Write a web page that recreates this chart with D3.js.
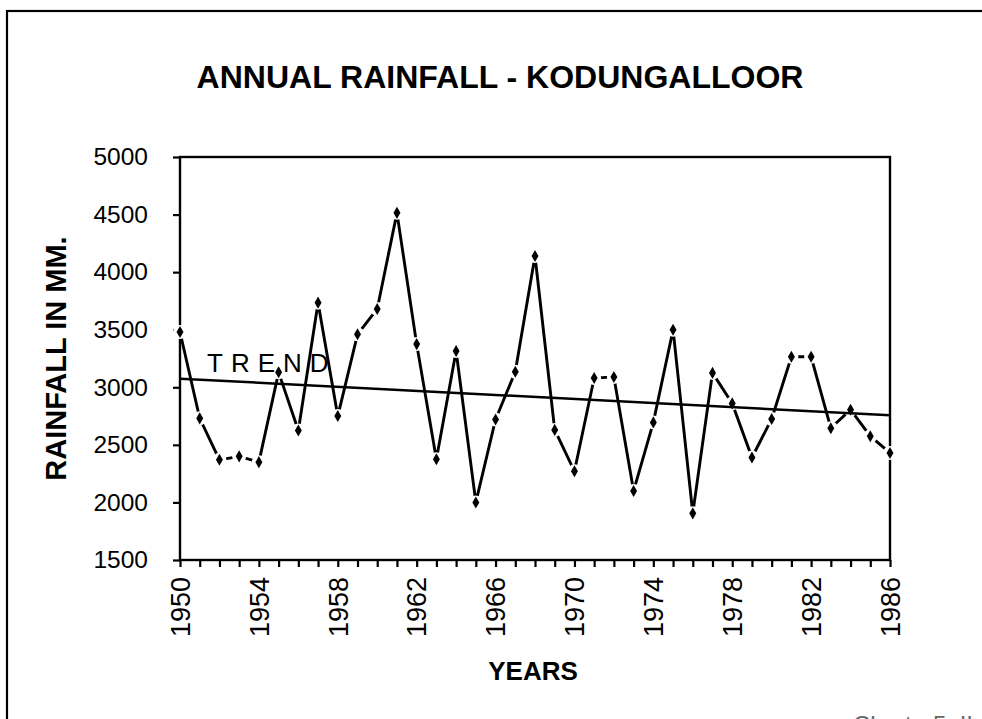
<!DOCTYPE html>
<html>
<head>
<script src="https://d3js.org/d3.v7.min.js"></script>
<style>
  body { margin: 0; background: #fff; }
  svg { font-family: "Liberation Sans", Arial, sans-serif; }
</style>
</head>
<body>
<div id="chart"></div>
<script>
const years = [1950, 1951, 1952, 1953, 1954, 1955, 1956, 1957, 1958, 1959,
               1960, 1961, 1962, 1963, 1964, 1965, 1966, 1967, 1968, 1969,
               1970, 1971, 1972, 1973, 1974, 1975, 1976, 1977, 1978, 1979,
               1980, 1981, 1982, 1983, 1984, 1985, 1986];
const rainfall = [3480, 2730, 2370, 2400, 2350, 3130, 2625, 3735, 2750, 3460,
                  3680, 4515, 3375, 2375, 3315, 2000, 2720, 3135, 4140, 2630,
                  2270, 3080, 3090, 2100, 2695, 3500, 1905, 3125, 2860, 2390,
                  2725, 3265, 3265, 2645, 2805, 2575, 2430];
// trend line end points
const trendYears = [1950, 1986];
const trendValues = [3075, 2757];
const yTicks = [1500, 2000, 2500, 3000, 3500, 4000, 4500, 5000];
const xLabelYears = [1950, 1954, 1958, 1962, 1966, 1970, 1974, 1978, 1982, 1986];

const width = 982, height = 719;
const plotLeft = 180, plotRight = 890, plotTop = 157, plotBottom = 560;

const svg = d3.select("#chart").append("svg")
    .attr("width", width)
    .attr("height", height);

// outer frame (runs off the page right and bottom)
svg.append("rect")
    .attr("x", 7).attr("y", 11)
    .attr("width", 1000).attr("height", 800)
    .attr("fill", "none").attr("stroke", "#000").attr("stroke-width", 2.2);

svg.append("text")
    .attr("x", 500).attr("y", 88)
    .attr("text-anchor", "middle")
    .attr("font-size", 32).attr("font-weight", "bold")
    .text("ANNUAL RAINFALL - KODUNGALLOOR");

const x = d3.scaleLinear().domain([1950, 1986]).range([plotLeft, plotRight]);
const y = d3.scaleLinear().domain([1500, 5000]).range([plotBottom, plotTop]);

// y axis
const yAxis = svg.append("g")
    .attr("transform", `translate(${plotLeft},0)`)
    .call(d3.axisLeft(y).tickValues(yTicks).tickSize(7).tickPadding(25).tickFormat(d3.format("d")));
yAxis.select(".domain").remove();
yAxis.selectAll("line").attr("stroke-width", 2.2);
yAxis.selectAll("text")
    .attr("font-size", 24.5).attr("fill", "#000")
    .attr("font-family", "Liberation Sans, Arial, sans-serif");

// x axis
const xAxis = svg.append("g")
    .attr("transform", `translate(0,${plotBottom})`)
    .call(d3.axisBottom(x).tickValues(years).tickSize(7).tickFormat(""));
xAxis.select(".domain").remove();
xAxis.selectAll("line").attr("stroke-width", 2.2);

svg.append("g")
    .selectAll("text")
    .data(xLabelYears)
    .join("text")
    .attr("transform", d => `translate(${x(d)},${plotBottom + 17}) rotate(-90)`)
    .attr("text-anchor", "end")
    .attr("dy", "0.36em")
    .attr("font-size", 27)
    .text(d => d);

// plot frame
svg.append("rect")
    .attr("x", plotLeft).attr("y", plotTop)
    .attr("width", plotRight - plotLeft).attr("height", plotBottom - plotTop)
    .attr("fill", "none").attr("stroke", "#000").attr("stroke-width", 2.4);

// axis titles
svg.append("text")
    .attr("transform", `translate(66,${(plotTop + plotBottom) / 2}) rotate(-90)`)
    .attr("text-anchor", "middle")
    .attr("font-size", 29).attr("font-weight", "bold")
    .text("RAINFALL IN MM.");

svg.append("text")
    .attr("x", 533).attr("y", 680)
    .attr("text-anchor", "middle")
    .attr("font-size", 26).attr("font-weight", "bold")
    .text("YEARS");

// rainfall series
const pts = years.map((yr, i) => [x(yr), y(rainfall[i])]);

svg.append("path")
    .attr("d", d3.line()(pts))
    .attr("fill", "none")
    .attr("stroke", "#000")
    .attr("stroke-width", 2.9)
    .attr("stroke-linejoin", "miter");

// white gaps round the markers
svg.append("g")
    .selectAll("circle")
    .data(pts)
    .join("circle")
    .attr("cx", d => d[0]).attr("cy", d => d[1])
    .attr("r", 7)
    .attr("fill", "#fff");

svg.append("g")
    .selectAll("path")
    .data(pts)
    .join("path")
    .attr("transform", d => `translate(${d[0]},${d[1]})`)
    .attr("d", d3.symbol(d3.symbolDiamond, 42))
    .attr("fill", "#000");

// trend
svg.append("path")
    .attr("d", d3.line()(trendYears.map((yr, i) => [x(yr), y(trendValues[i])])))
    .attr("fill", "none")
    .attr("stroke", "#000")
    .attr("stroke-width", 2.5);

svg.append("text")
    .attr("x", 207).attr("y", 372)
    .attr("font-size", 26)
    .attr("letter-spacing", 8)
    .text("TREND");

// footer caption, cut by the page edge as in the scan
svg.append("text")
    .attr("x", 853).attr("y", 733)
    .attr("font-size", 24)
    .attr("fill", "#666")
    .text("Chart - 5. II");
</script>
</body>
</html>
